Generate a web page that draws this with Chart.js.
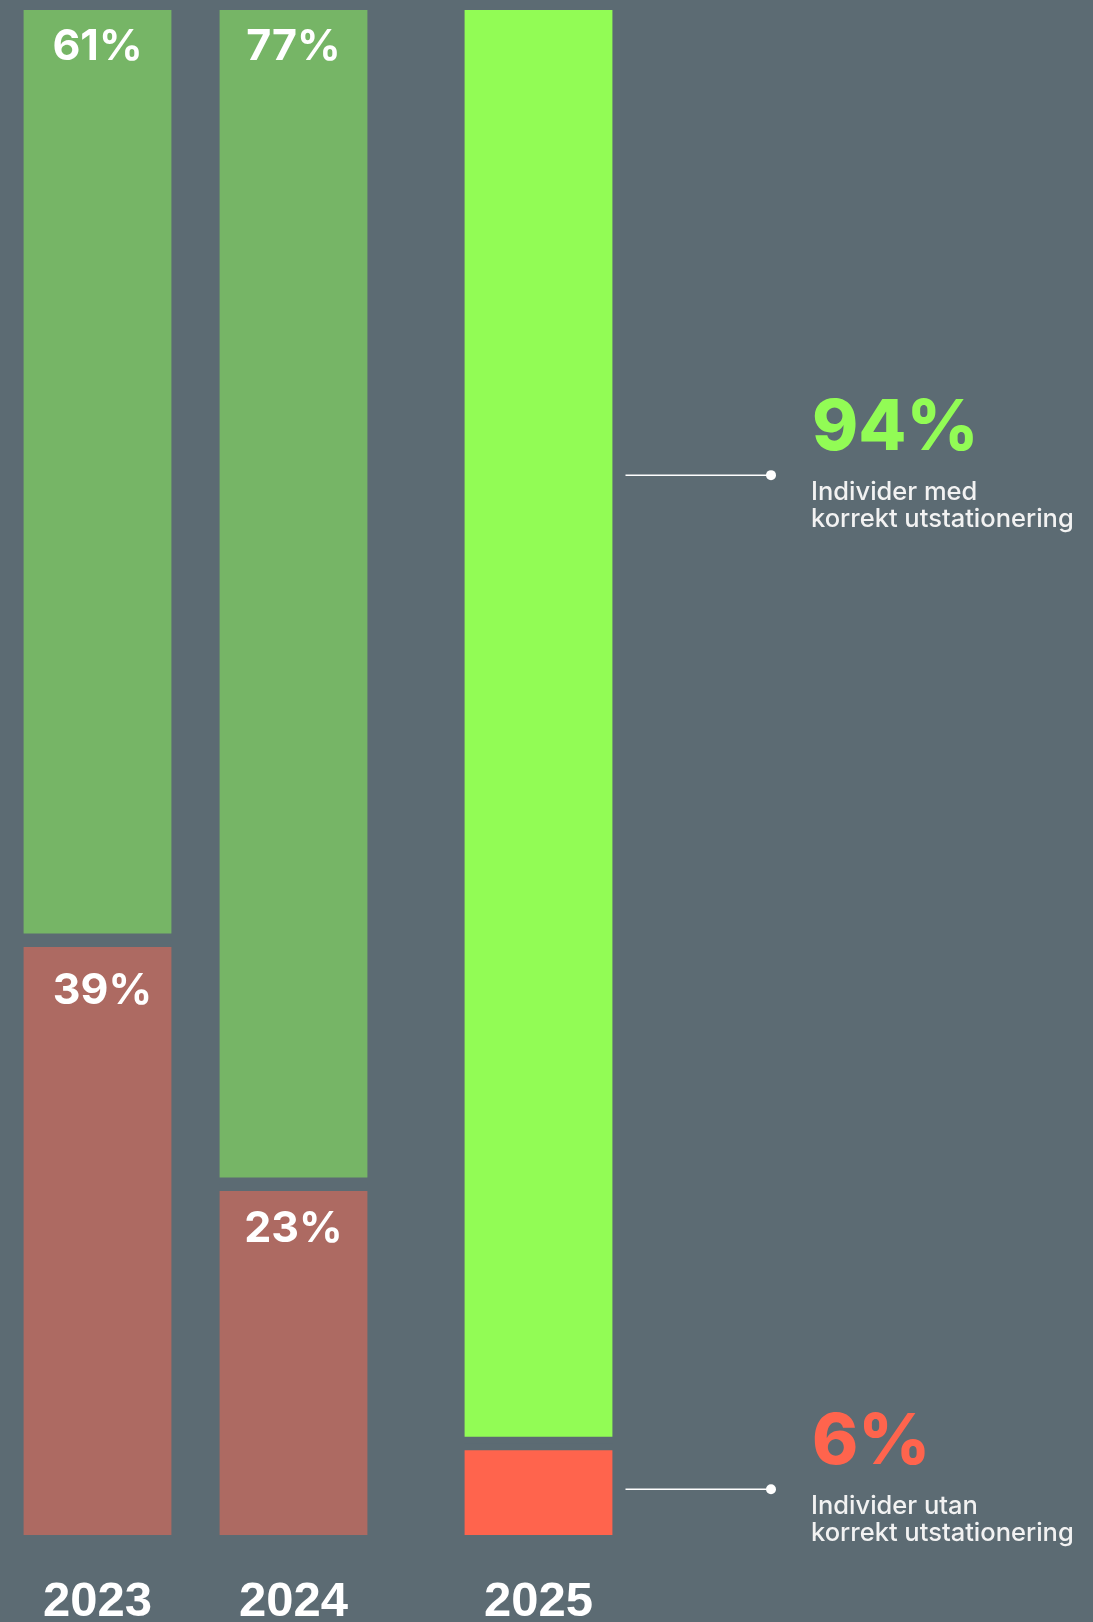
<!DOCTYPE html>
<html lang="sv">
<head>
    <meta charset="UTF-8">
    <title>Utstationering</title>
    <script src="https://cdn.jsdelivr.net/npm/chart.js"></script>
    <style>
        html, body {
            margin: 0;
            padding: 0;
            background: #5c6b73;
            overflow: hidden;
        }
        #wrap {
            position: relative;
            width: 1093px;
            height: 1622px;
        }
    </style>
</head>
<body>
    <div id="wrap">
        <canvas id="chart"></canvas>
    </div>

    <script>
        // data
        const years = ['2023', '2024', '2025'];
        const correct = [61, 77, 94];      // Individer med korrekt utstationering
        const incorrect = [39, 23, 6];     // Individer utan korrekt utstationering
        const correctText = ['Individer med', 'korrekt utstationering'];
        const incorrectText = ['Individer utan', 'korrekt utstationering'];

        // layout: years sit on uneven slots of a category axis
        const BG = '#5c6b73';
        const SLOTS = 12;
        const yearSlot = [1, 5, 10];
        const greenCols = ['#76b566', '#76b566', '#92fc55'];
        const redCols = ['#ad6a62', '#ad6a62', '#ff644d'];

        const labels = [];
        const correctData = [];
        const incorrectData = [];
        const greenArr = [];
        const redArr = [];
        for (let i = 0; i < SLOTS; i++) {
            const k = yearSlot.indexOf(i);
            labels.push(k >= 0 ? years[k] : '');
            correctData.push(k >= 0 ? correct[k] : null);
            incorrectData.push(k >= 0 ? incorrect[k] : null);
            greenArr.push(k >= 0 ? greenCols[k] : BG);
            redArr.push(k >= 0 ? redCols[k] : BG);
        }

        const barLabels = {
            id: 'barLabels',
            afterDatasetsDraw(chart) {
                const ctx = chart.ctx;
                const y = chart.scales.y;
                ctx.save();

                // percentages inside the first two years
                chart.data.datasets.forEach((ds, di) => {
                    const meta = chart.getDatasetMeta(di);
                    meta.data.forEach((el, i) => {
                        const k = yearSlot.indexOf(i);
                        if (k < 0 || k === years.length - 1) return;
                        ctx.fillStyle = '#ffffff';
                        ctx.font = '700 43px Inter';
                        ctx.textAlign = 'center';
                        ctx.textBaseline = 'middle';
                        let off = di === 0 ? 45 : 37;
                        let dx = 0;
                        if (di === 0 && k === 0) { off = 51; dx = 5; }
                        ctx.fillText(ds.data[i] + '%', el.x + dx, el.y + off);
                    });
                });

                // callouts for the last year
                const last = years.length - 1;
                const slot = yearSlot[last];
                const callouts = [
                    { ds: 1, anchor: 69.5, lines: correctText, color: greenCols[last] },
                    { ds: 0, anchor: 3, lines: incorrectText, color: redCols[last] }
                ];
                callouts.forEach(c => {
                    const el = chart.getDatasetMeta(c.ds).data[slot];
                    const ly = y.getPixelForValue(c.anchor);
                    const x0 = el.x + el.width / 2 + 13;
                    const x1 = 771;
                    ctx.strokeStyle = '#ffffff';
                    ctx.lineWidth = 1.5;
                    ctx.beginPath();
                    ctx.moveTo(x0, ly);
                    ctx.lineTo(x1, ly);
                    ctx.stroke();
                    ctx.fillStyle = '#ffffff';
                    ctx.beginPath();
                    ctx.arc(x1, ly, 5, 0, Math.PI * 2);
                    ctx.fill();

                    ctx.textAlign = 'left';
                    ctx.textBaseline = 'alphabetic';
                    ctx.fillStyle = c.color;
                    ctx.font = '800 70px Inter';
                    const val = chart.data.datasets[c.ds].data[slot];
                    ctx.fillText(val + '%', 812, ly - 25);

                    ctx.fillStyle = '#f2f2f2';
                    ctx.font = '500 25.5px Inter';
                    ctx.fillText(c.lines[0], 811, ly + 25);
                    ctx.fillText(c.lines[1], 811, ly + 52);
                });
                ctx.restore();
            }
        };

        new Chart(document.getElementById('chart'), {
            type: 'bar',
            data: {
                labels: labels,
                datasets: [{
                    label: 'Individer utan korrekt utstationering',
                    data: incorrectData,
                    backgroundColor: redArr,
                    borderColor: BG,
                    borderWidth: { top: 7, bottom: 0, left: 0, right: 0 },
                    borderSkipped: false,
                    barThickness: 148,
                    clip: false
                }, {
                    label: 'Individer med korrekt utstationering',
                    data: correctData,
                    backgroundColor: greenArr,
                    borderColor: BG,
                    borderWidth: { top: 0, bottom: 7, left: 0, right: 0 },
                    borderSkipped: false,
                    barThickness: 148,
                    clip: false
                }]
            },
            options: {
                responsive: true,
                maintainAspectRatio: false,
                animation: false,
                layout: {
                    padding: { left: 24, right: 481, top: 10, bottom: 0 }
                },
                plugins: {
                    legend: { display: false },
                    tooltip: { enabled: false }
                },
                scales: {
                    x: {
                        stacked: true,
                        grid: { display: false, drawTicks: false },
                        border: { display: false },
                        afterFit: scale => { scale.height = 87; },
                        ticks: {
                            autoSkip: false,
                            maxRotation: 0,
                            padding: 43,
                            color: '#ffffff',
                            font: { family: 'Liberation Sans', size: 49, weight: 'bold', lineHeight: 1 }
                        }
                    },
                    y: {
                        stacked: true,
                        display: false,
                        min: 0,
                        max: 100
                    }
                }
            },
            plugins: [barLabels]
        });
    </script>
</body>
</html>
